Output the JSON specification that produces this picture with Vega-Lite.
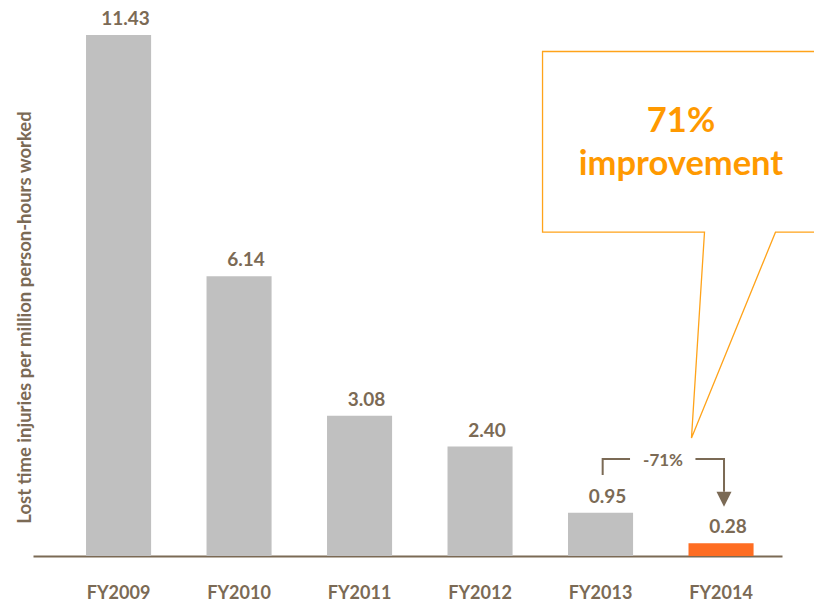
{
  "$schema": "https://vega.github.io/schema/vega-lite/v6.json",
  "width": 749,
  "height": 556,
  "autosize": {"type": "none"},
  "padding": {"left": 33, "top": 0, "right": 32, "bottom": 47},
  "background": "white",
  "config": {"view": {"stroke": null}, "font": "Lato"},
  "datasets": {
    "bars": [
      {"year": "FY2009", "v": 11.43, "label": "11.43", "group": "past"},
      {"year": "FY2010", "v": 6.14, "label": "6.14", "group": "past"},
      {"year": "FY2011", "v": 3.08, "label": "3.08", "group": "past"},
      {"year": "FY2012", "v": 2.40, "label": "2.40", "group": "past"},
      {"year": "FY2013", "v": 0.95, "label": "0.95", "group": "past"},
      {"year": "FY2014", "v": 0.28, "label": "0.28", "group": "latest"}
    ],
    "callout": [
      {"u": 5.95, "v": 11.07, "o": 1},
      {"u": 3.519, "v": 11.07, "o": 2},
      {"u": 3.519, "v": 7.105, "o": 3},
      {"u": 4.863, "v": 7.105, "o": 4},
      {"u": 4.755, "v": 2.588, "o": 5},
      {"u": 5.452, "v": 7.105, "o": 6},
      {"u": 5.95, "v": 7.105, "o": 7}
    ],
    "calloutText": [
      {"u": 4.668, "v": 9.305, "t": "71%"},
      {"u": 4.668, "v": 8.355, "t": "improvement"}
    ],
    "bracket": [
      {"seg": "a", "u": 4.018, "v": 1.776, "o": 1},
      {"seg": "a", "u": 4.018, "v": 2.127, "o": 2},
      {"seg": "a", "u": 4.245, "v": 2.127, "o": 3},
      {"seg": "b", "u": 4.788, "v": 2.127, "o": 1},
      {"seg": "b", "u": 5.025, "v": 2.127, "o": 2},
      {"seg": "b", "u": 5.025, "v": 1.41, "o": 3}
    ],
    "arrow": [{"u": 5.025, "v": 1.2456}],
    "bracketText": [{"u": 4.519, "v": 2.09, "t": "-71%"}]
  },
  "layer": [
    {
      "data": {"name": "bars"},
      "mark": {"type": "bar"},
      "encoding": {
        "x": {
          "field": "year", "type": "nominal", "sort": null,
          "scale": {"type": "band", "paddingInner": 0.46, "paddingOuter": 0.338, "align": 0.651},
          "axis": {
            "title": null, "ticks": false, "labelAngle": 0,
            "labelFont": "Lato", "labelFontWeight": "bold", "labelFontSize": 18,
            "labelColor": "#7b6a55", "labelBaseline": "alphabetic", "labelPadding": 42,
            "domainColor": "#7b6a55", "domainWidth": 2
          }
        },
        "y": {
          "field": "v", "type": "quantitative",
          "scale": {"domain": [0, 12.2], "nice": false},
          "axis": {
            "title": "Lost time injuries per million person-hours worked",
            "domain": false, "ticks": false, "labels": false, "grid": false,
            "titleFont": "Lato", "titleFontWeight": "bold", "titleFontSize": 18.5,
            "titleColor": "#7b6a55", "titleAngle": -90, "titleX": -3, "titleY": 317,
            "titleBaseline": "alphabetic", "titleAlign": "center"
          }
        },
        "color": {
          "field": "group", "type": "nominal",
          "scale": {"domain": ["past", "latest"], "range": ["#c0c0c0", "#fe6d22"]},
          "legend": null
        }
      }
    },
    {
      "data": {"name": "bars"},
      "mark": {"type": "text", "dx": 7, "dy": -10, "baseline": "alphabetic", "align": "center",
               "fontSize": 19, "fontWeight": "bold", "font": "Lato", "color": "#7b6a55"},
      "encoding": {
        "x": {"field": "year", "type": "nominal", "sort": null,
              "scale": {"type": "band", "paddingInner": 0.46, "paddingOuter": 0.338, "align": 0.651}, "axis": null},
        "y": {"field": "v", "type": "quantitative"},
        "text": {"field": "label"}
      }
    },
    {
      "data": {"name": "callout"},
      "mark": {"type": "line", "color": "#ffa31a", "strokeWidth": 1.3},
      "encoding": {
        "x": {"field": "u", "type": "quantitative", "scale": {"domain": [-0.7095, 5.5062], "nice": false, "zero": false}, "axis": null},
        "y": {"field": "v", "type": "quantitative"},
        "order": {"field": "o"}
      }
    },
    {
      "data": {"name": "calloutText"},
      "mark": {"type": "text", "baseline": "alphabetic", "align": "center",
               "fontSize": 34.5, "fontWeight": "bold", "font": "Lato", "color": "#ff9900"},
      "encoding": {
        "x": {"field": "u", "type": "quantitative", "scale": {"domain": [-0.7095, 5.5062], "nice": false, "zero": false}, "axis": null},
        "y": {"field": "v", "type": "quantitative"},
        "text": {"field": "t"}
      }
    },
    {
      "data": {"name": "bracket"},
      "mark": {"type": "line", "color": "#7b6a55", "strokeWidth": 2},
      "encoding": {
        "x": {"field": "u", "type": "quantitative", "scale": {"domain": [-0.7095, 5.5062], "nice": false, "zero": false}, "axis": null},
        "y": {"field": "v", "type": "quantitative"},
        "detail": {"field": "seg"},
        "order": {"field": "o"}
      }
    },
    {
      "data": {"name": "arrow"},
      "mark": {"type": "point", "shape": "M-1,-1L1,-1L0,1Z", "size": 225, "filled": true, "opacity": 1, "color": "#7b6a55"},
      "encoding": {
        "x": {"field": "u", "type": "quantitative", "scale": {"domain": [-0.7095, 5.5062], "nice": false, "zero": false}, "axis": null},
        "y": {"field": "v", "type": "quantitative"}
      }
    },
    {
      "data": {"name": "bracketText"},
      "mark": {"type": "text", "baseline": "middle", "align": "center",
               "fontSize": 17, "fontWeight": "bold", "font": "Lato", "color": "#7b6a55"},
      "encoding": {
        "x": {"field": "u", "type": "quantitative", "scale": {"domain": [-0.7095, 5.5062], "nice": false, "zero": false}, "axis": null},
        "y": {"field": "v", "type": "quantitative"},
        "text": {"field": "t"}
      }
    }
  ],
  "resolve": {"scale": {"x": "independent"}}
}
